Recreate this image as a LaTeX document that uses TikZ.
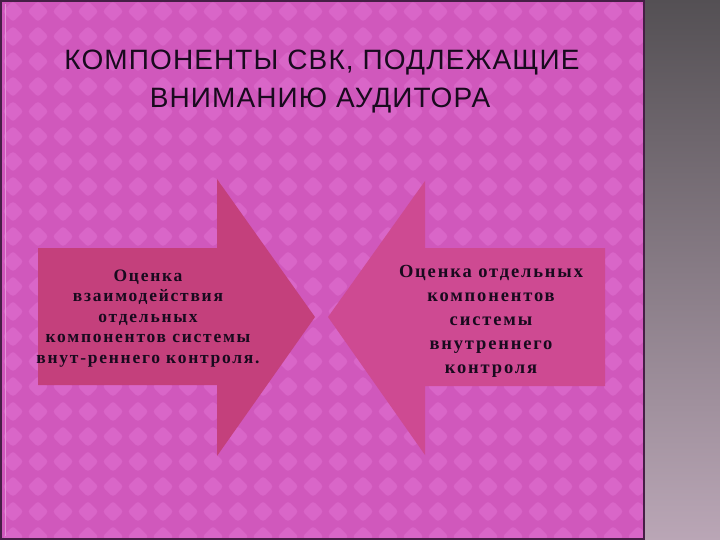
\documentclass[tikz,border=0pt]{standalone}
\usepackage{fontspec}
\setmainfont{Liberation Serif}
\newfontfamily\titlefont[LetterSpace=4]{Liberation Sans}
\newfontfamily\bodyfontL[LetterSpace=10]{Liberation Serif}
\newfontfamily\bodyfontR[LetterSpace=10]{Liberation Serif}
\definecolor{bgpink}{RGB}{208,88,188}
\definecolor{dmlight}{RGB}{217,102,200}
\definecolor{arrowL}{RGB}{196,64,124}
\definecolor{arrowR}{RGB}{206,74,146}
\definecolor{stripTop}{RGB}{84,80,84}
\definecolor{stripBot}{RGB}{186,166,182}
\definecolor{edgedark}{RGB}{70,30,70}
\definecolor{txt}{RGB}{25,10,30}
\tikzset{
  titletext/.style={font=\titlefont\fontsize{28}{32}\selectfont, text=txt, inner sep=0pt, anchor=base},
  bodytextL/.style={font=\bodyfontL\bfseries\fontsize{17.5}{20.5}\selectfont, text=txt, align=center, inner sep=0pt},
  bodytextR/.style={font=\bodyfontR\bfseries\fontsize{18.5}{24}\selectfont, text=txt, align=center, inner sep=0pt},
  dm/.style={fill=dmlight, rounded corners=3pt}
}
\begin{document}
\begin{tikzpicture}[x=1pt,y=-1pt]
\useasboundingbox (0,0) rectangle (720,540);
% background
\fill[bgpink] (0,0) rectangle (644,540);
\begin{scope}
\clip (0,0) rectangle (644,540);
\foreach \i in {0,...,26} {
  \foreach \j in {0,...,22} {
    \fill[dm] ({\i*25+13},{\j*25+1}) -- ++(10.5,10.5) -- ++(-10.5,10.5) -- ++(-10.5,-10.5) -- cycle;
  }
}
\end{scope}
% right strip
\shade[top color=stripTop, bottom color=stripBot] (644,0) rectangle (720,540);
\draw[edgedark, line width=2.5pt] (644,0) -- (644,540);
\draw[edgedark, line width=2pt] (0,1) -- (644,1);
\draw[edgedark, line width=2pt] (0,539) -- (644,539);
\draw[edgedark, line width=1.5pt] (0.75,0) -- (0.75,540);
\draw[dmlight!70!white, line width=0.8pt] (5,4) -- (5,536);
% arrows
\fill[arrowL] (38,248) -- (217,248) -- (217,179) -- (315,317) -- (217,456) -- (217,385) -- (38,385) -- cycle;
\fill[arrowR] (605,248) -- (425,248) -- (425,181) -- (328,317) -- (425,455) -- (425,386) -- (605,386) -- cycle;
% title
\node[titletext] (t1) at (322,70) {КОМПОНЕНТЫ СВК, ПОДЛЕЖАЩИЕ};
\node[titletext] (t2) at (320,108) {ВНИМАНИЮ АУДИТОРА};
% texts
\node[bodytextL] (tl) at (148,318.5) {Оценка\\взаимодействия\\отдельных\\компонентов системы\\внут-реннего контроля.};
\node[bodytextR] (tr) at (491,321) {Оценка отдельных\\компонентов\\системы\\внутреннего\\контроля};
\end{tikzpicture}
\end{document}
